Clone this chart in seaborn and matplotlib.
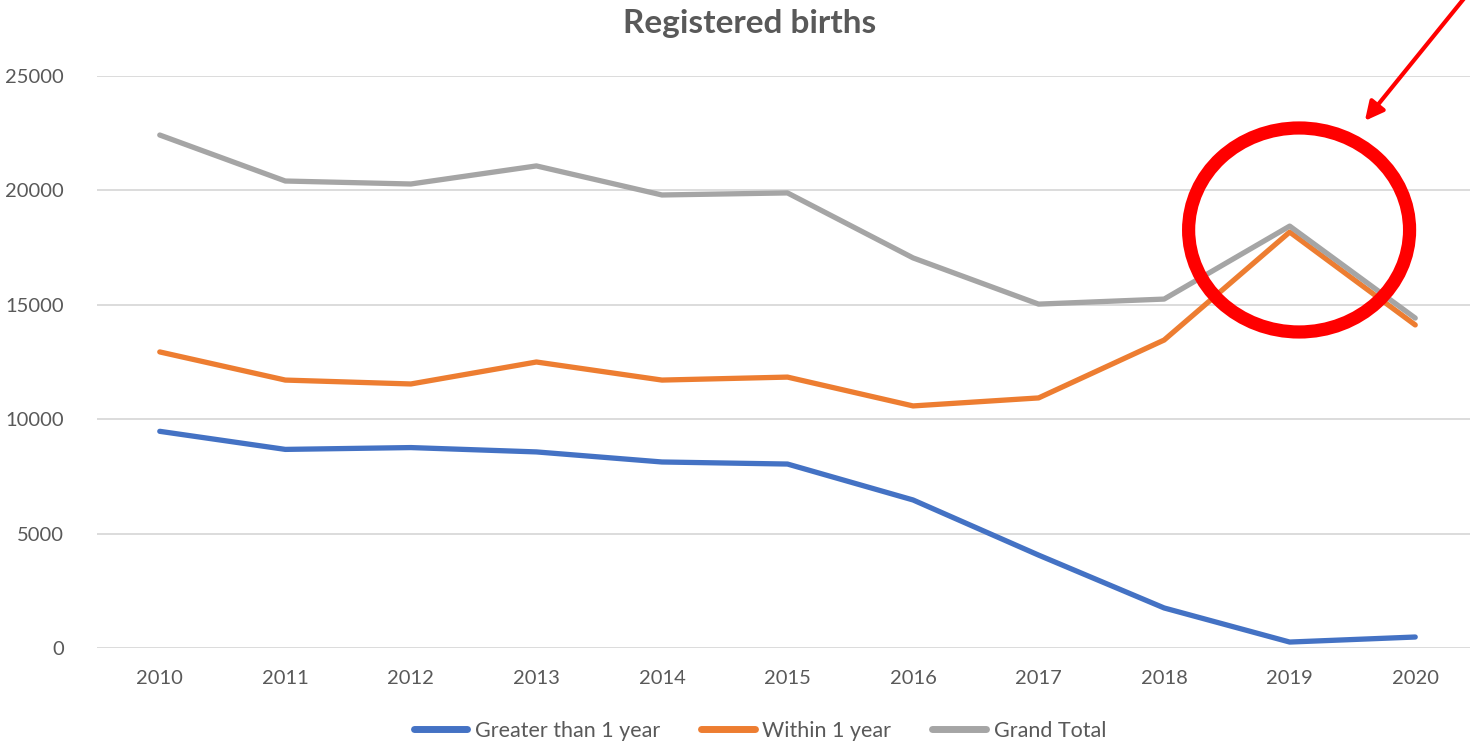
import matplotlib
matplotlib.use("Agg")
import matplotlib.pyplot as plt
from matplotlib.patches import Ellipse
import pandas as pd
import seaborn as sns

years = [2010, 2011, 2012, 2013, 2014, 2015, 2016, 2017, 2018, 2019, 2020]
greater_than_1_year = [9470, 8680, 8760, 8570, 8130, 8040, 6470, 4060, 1750, 260, 480]
within_1_year = [12940, 11710, 11540, 12500, 11710, 11840, 10580, 10930, 13460, 18180, 14120]
grand_total = [22420, 20410, 20280, 21070, 19800, 19890, 17050, 15030, 15250, 18440, 14420]
series_names = ["Greater than 1 year", "Within 1 year", "Grand Total"]
colors = ["#4472C4", "#ED7D31", "#A5A5A5"]

df = pd.DataFrame({"year": years,
                   series_names[0]: greater_than_1_year,
                   series_names[1]: within_1_year,
                   series_names[2]: grand_total})
melted = df.melt(id_vars=["year"], var_name="series", value_name="births")

sns.set_theme(style="white")
plt.rcParams['font.family'] = ['Lato', 'DejaVu Sans']
text_color = "#595959"

fig = plt.figure(figsize=(14.7, 7.44), dpi=100)
ax = fig.add_axes([97 / 1470, 96 / 744, 1381 / 1470, 572 / 744])

sns.lineplot(data=melted, x="year", y="births", hue="series", hue_order=series_names,
             palette=colors, linewidth=3.8, ax=ax, solid_capstyle="round")

ax.set_xlim(2009.5, 2020.5)
ax.set_ylim(0, 25000)
ax.set_xticks(years)
ax.set_yticks(range(0, 25001, 5000))
ax.yaxis.grid(True, color="#D9D9D9", linewidth=1.3)
ax.set_axisbelow(True)
for s in ax.spines.values():
    s.set_visible(False)
ax.set_xlabel("")
ax.set_ylabel("")
ax.tick_params(axis="both", labelsize=14.5, colors=text_color, length=0)
ax.tick_params(axis="x", pad=16)
ax.tick_params(axis="y", pad=24)

fig.text(0.51, 0.968, "Registered births", ha="center", va="center",
         fontsize=24, fontweight="bold", color=text_color)

sns.move_legend(ax, "lower center", bbox_to_anchor=(0.48, -0.196), ncol=3, frameon=False,
                title=None, fontsize=15.5, handlelength=2.5, columnspacing=1.9,
                handletextpad=0.35)
for t in ax.get_legend().get_texts():
    t.set_color(text_color)
for h in ax.get_legend().legend_handles:
    h.set_linewidth(5)

# red highlight around the 2019 peak
ax.add_patch(Ellipse((2019.075, 18270), 1.76, 8916, fill=False, edgecolor="#FF0000",
                     linewidth=9.5, clip_on=False, zorder=5))
ax.annotate("", xy=(2019.585, 22946), xytext=(2020.42, 28600),
            arrowprops=dict(arrowstyle="-|>", color="#FF0000", lw=3, mutation_scale=28),
            annotation_clip=False, zorder=5)

fig.savefig("out.png", dpi=100)
